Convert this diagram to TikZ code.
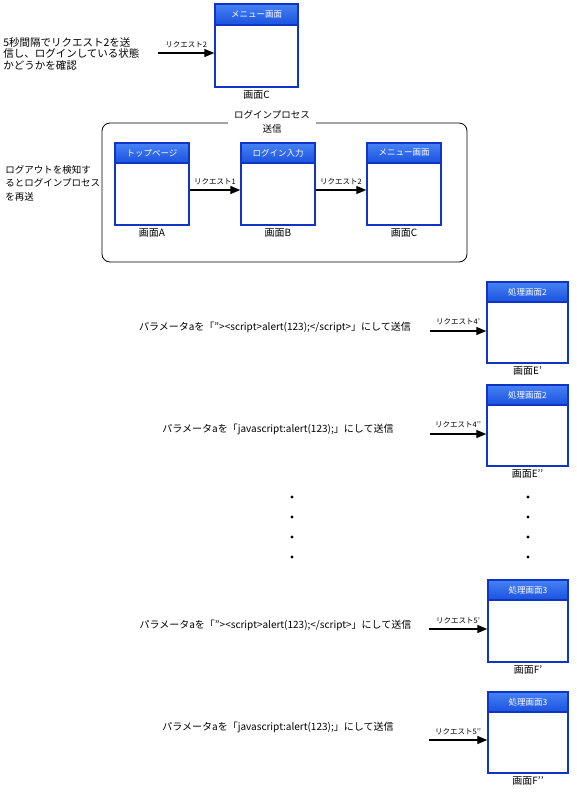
\documentclass[tikz,border=0pt]{standalone}
\usepackage{fontspec}
\setmainfont{Noto Sans CJK JP}
\usetikzlibrary{positioning}
\usetikzlibrary{arrows}
\definecolor{winblue}{RGB}{16,52,196}
\definecolor{barblue}{RGB}{26,82,222}
\definecolor{barlight}{RGB}{70,130,245}
\tikzset{
win/.style={
  draw=winblue,
  line width=1.6pt,
  fill=white,
  inner sep=0pt
  },
bar/.style={
  draw=winblue,
  line width=1.6pt,
  top color=barlight,
  bottom color=barblue,
  text=white,
  font=\fontsize{8.5}{9}\selectfont,
  inner sep=0pt,
  minimum height=20pt,
  anchor=north
  },
scr/.style={font=\fontsize{10}{11}\selectfont, inner sep=1pt},
req/.style={font=\fontsize{7.5}{8}\selectfont, inner sep=1pt},
msg/.style={font=\fontsize{10}{11}\selectfont, inner sep=0pt}
}
\begin{document}
\begin{tikzpicture}[x=1pt,y=-1pt,->,>=triangle 45,semithick]
  \useasboundingbox (0,0) rectangle (576,793);
  % polling
  \node[anchor=north west, align=left, inner sep=0pt, font=\fontsize{10.5}{11.6}\selectfont] (poll) at (3,37)
    {5秒間隔でリクエスト2を送\\信し、ログインしている状態\\かどうかを確認};
  \node[win, minimum width=83pt, minimum height=83pt] (top) at (256.5,45.5) {};
  \node[bar, minimum width=83pt, minimum height=21pt] (topbar) at (top.north) {メニュー画面};
  \node[scr, below=2pt of top] (topcap) {画面C};
  \coordinate (topin) at (158,53);
  \draw[line width=1.3pt] (topin) -- node[req, above=4pt] {リクエスト2} ([yshift=-7.5pt]top.west);
  % login process
  \node[draw, rounded corners=8pt, line width=0.8pt, minimum width=365pt, minimum height=139pt, inner sep=0pt] (login) at (284.5,192.5) {};
  \node[fill=white, align=center, inner xsep=6pt, inner ysep=0pt, font=\fontsize{9.5}{13.5}\selectfont] (logintitle) at (272,122) {ログインプロセス\\送信};
  \node[anchor=west, align=left, inner sep=0pt, font=\fontsize{9.5}{13.5}\selectfont] (resend) at (5,183)
    {ログアウトを検知す\\るとログインプロセス\\を再送};
  \node[win, minimum width=74pt, minimum height=82pt] (a) at (152,184) {};
  \node[bar, minimum width=74pt] (abar) at (a.north) {トップページ};
  \node[scr, below=2pt of a] (acap) {画面A};
  \node[win, minimum width=74pt, minimum height=82pt] (b) at (278,184) {};
  \node[bar, minimum width=74pt] (bbar) at (b.north) {ログイン入力};
  \node[scr, below=2pt of b] (bcap) {画面B};
  \node[win, minimum width=74pt, minimum height=82pt] (c) at (404,184) {};
  \node[bar, minimum width=74pt] (cbar) at (c.north) {メニュー画面};
  \node[scr, below=2pt of c] (ccap) {画面C};
  \draw[line width=1.3pt] ([yshift=-6pt]a.east) -- node[req, above=4pt] {リクエスト1} ([yshift=-6pt]b.west);
  \draw[line width=1.3pt] ([yshift=-6pt]b.east) -- node[req, above=4pt] {リクエスト2} ([yshift=-6pt]c.west);
  % parameter a, screen 2
  \node[msg] (m1) at (275,327) {パラメータaを「”><script>alert(123);</script>」にして送信};
  \node[win, minimum width=81pt, minimum height=81pt] (e1) at (527.5,322.5) {};
  \node[bar, minimum width=81pt] (e1bar) at (e1.north) {処理画面2};
  \node[scr, below=2pt of e1] (e1cap) {画面E’};
  \coordinate (e1in) at (430,331);
  \draw[line width=1.3pt] (e1in) -- node[req, above=5pt] {リクエスト4’} ([yshift=-8.5pt]e1.west);
  \node[msg] (m2) at (278,429) {パラメータaを「javascript:alert(123);」にして送信};
  \node[win, minimum width=81pt, minimum height=81pt] (e2) at (527.5,425.5) {};
  \node[bar, minimum width=81pt] (e2bar) at (e2.north) {処理画面2};
  \node[scr, below=2pt of e2] (e2cap) {画面E’’};
  \coordinate (e2in) at (430,434);
  \draw[line width=1.3pt] (e2in) -- node[req, above=5pt] {リクエスト4’’} ([yshift=-8.5pt]e2.west);
  % dots
  \foreach \y in {497,517,537,557} {
    \fill (292,\y) circle (1.6pt);
    \fill (528,\y) circle (1.6pt);
  }
  % parameter a, screen 3
  \node[msg] (m3) at (275.5,625) {パラメータaを「”><script>alert(123);</script>」にして送信};
  \node[win, minimum width=80pt, minimum height=82pt] (f1) at (528,621) {};
  \node[bar, minimum width=80pt] (f1bar) at (f1.north) {処理画面3};
  \node[scr, below=2pt of f1] (f1cap) {画面F’};
  \coordinate (f1in) at (429,629);
  \draw[line width=1.3pt] (f1in) -- node[req, above=4pt] {リクエスト5’} ([yshift=-8pt]f1.west);
  \node[msg] (m4) at (278,727) {パラメータaを「javascript:alert(123);」にして送信};
  \node[win, minimum width=80pt, minimum height=81pt] (f2) at (528,732.5) {};
  \node[bar, minimum width=80pt] (f2bar) at (f2.north) {処理画面3};
  \node[scr, below=2pt of f2] (f2cap) {画面F’’};
  \coordinate (f2in) at (429,740);
  \draw[line width=1.3pt] (f2in) -- node[req, above=4pt] {リクエスト5’’} ([yshift=-7.5pt]f2.west);
\end{tikzpicture}
\end{document}
